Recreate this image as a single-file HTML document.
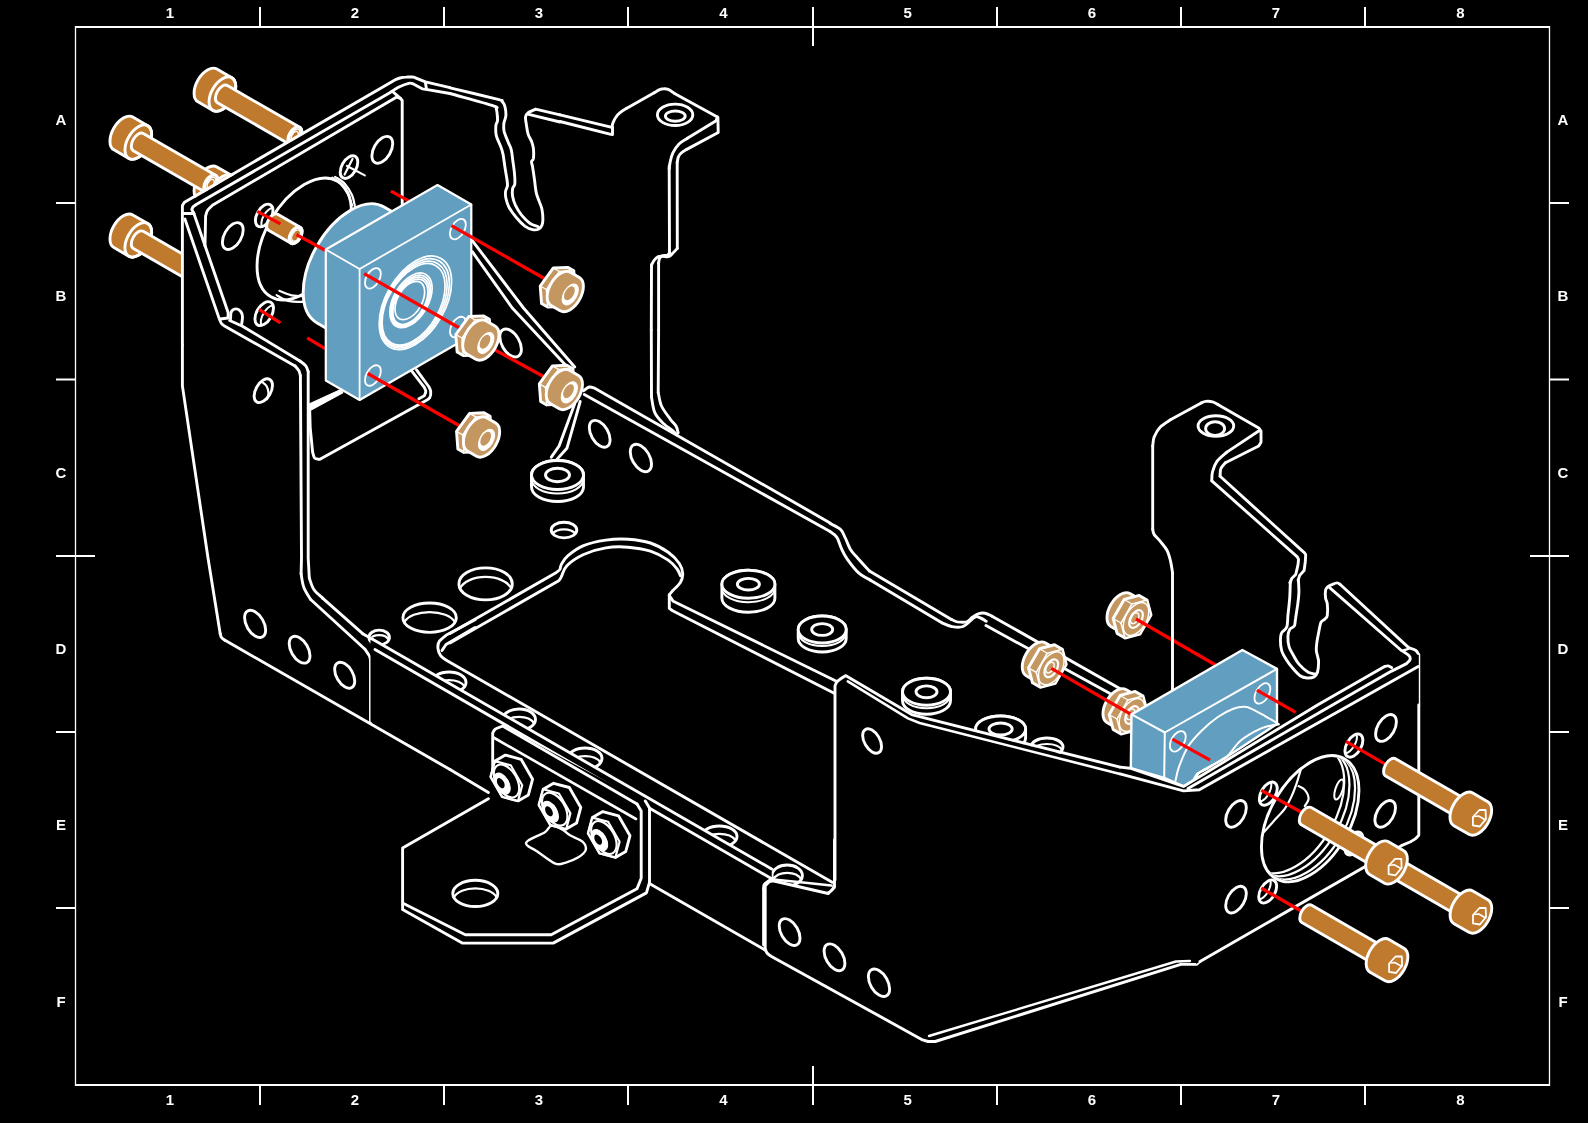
<!DOCTYPE html>
<html><head><meta charset="utf-8"><style>
html,body{margin:0;padding:0;background:#000;width:1588px;height:1123px;overflow:hidden}
svg{display:block}
</style></head><body>
<svg width="1588" height="1123" viewBox="0 0 1588 1123" stroke-linejoin="round" stroke-linecap="round">
<rect width="1588" height="1123" fill="#000"/>
<path d="M75 27H1550M75 1085H1550" stroke="#fff" stroke-width="2" fill="none" stroke-linecap="butt"/>
<path d="M75.5 26V1086M1549.5 26V1086" stroke="#fff" stroke-width="1.3" fill="none" stroke-linecap="butt"/>
<path d="M260 7V27M260 1085V1105M444 7V27M444 1085V1105M628 7V27M628 1085V1105M997 7V27M997 1085V1105M1181 7V27M1181 1085V1105M1365 7V27M1365 1085V1105M813 7V46M813 1066V1105M56 203H75.5M1549.5 203H1569M56 379.5H75.5M1549.5 379.5H1569M56 732H75.5M1549.5 732H1569M56 908H75.5M1549.5 908H1569M56 556H95M1530 556H1569" stroke="#fff" stroke-width="2" fill="none" stroke-linecap="butt"/>
<g fill="#fff" font-family="Liberation Sans, sans-serif" font-weight="bold" font-size="15" text-anchor="middle" style="filter:grayscale(1)"><text x="170.0" y="18.3">1</text><text x="170.0" y="1105.3">1</text><text x="354.8" y="18.3">2</text><text x="354.8" y="1105.3">2</text><text x="539" y="18.3">3</text><text x="539" y="1105.3">3</text><text x="723.5" y="18.3">4</text><text x="723.5" y="1105.3">4</text><text x="907.6" y="18.3">5</text><text x="907.6" y="1105.3">5</text><text x="1091.8" y="18.3">6</text><text x="1091.8" y="1105.3">6</text><text x="1276" y="18.3">7</text><text x="1276" y="1105.3">7</text><text x="1460.3" y="18.3">8</text><text x="1460.3" y="1105.3">8</text><text x="61" y="125.0">A</text><text x="1563" y="125.0">A</text><text x="61" y="301.3">B</text><text x="1563" y="301.3">B</text><text x="61" y="477.6">C</text><text x="1563" y="477.6">C</text><text x="61" y="654.0">D</text><text x="1563" y="654.0">D</text><text x="61" y="830.3000000000001">E</text><text x="1563" y="830.3000000000001">E</text><text x="61" y="1006.6">F</text><text x="1563" y="1006.6">F</text></g>
<g transform="translate(222.4 191.9) rotate(30)"><path d="M-17.3 -18.9L0.0 -18.9A10.9 18.9 0 0 1 0.0 18.9L-17.3 18.9A10.9 18.9 0 0 1 -17.3 -18.9Z" fill="#C07A2E" stroke="#fff" stroke-width="2.9"/><ellipse cx="0.0" cy="0" rx="10.9" ry="18.9" fill="none" stroke="#fff" stroke-width="2.9"/><path d="M0.0 -9.9L83.6 -9.9A5.7 9.9 0 0 1 83.6 9.9L0.0 9.9A5.7 9.9 0 0 1 0.0 -9.9Z" fill="#C07A2E" stroke="#fff" stroke-width="2.9"/><ellipse cx="83.6" cy="0" rx="5.7" ry="9.9" fill="none" stroke="#fff" stroke-width="2.9"/><ellipse cx="83.6" cy="0" rx="4.3" ry="7.5" fill="none" stroke="#fff" stroke-width="1.6"/><ellipse cx="83.6" cy="0" rx="2.9" ry="5.0" fill="none" stroke="#fff" stroke-width="1.6"/></g>
<g transform="translate(138.3 142.1) rotate(30)"><path d="M-17.3 -18.9L0.0 -18.9A10.9 18.9 0 0 1 0.0 18.9L-17.3 18.9A10.9 18.9 0 0 1 -17.3 -18.9Z" fill="#C07A2E" stroke="#fff" stroke-width="2.9"/><ellipse cx="0.0" cy="0" rx="10.9" ry="18.9" fill="none" stroke="#fff" stroke-width="2.9"/><path d="M0.0 -9.9L83.6 -9.9A5.7 9.9 0 0 1 83.6 9.9L0.0 9.9A5.7 9.9 0 0 1 0.0 -9.9Z" fill="#C07A2E" stroke="#fff" stroke-width="2.9"/><ellipse cx="83.6" cy="0" rx="5.7" ry="9.9" fill="none" stroke="#fff" stroke-width="2.9"/><ellipse cx="83.6" cy="0" rx="4.3" ry="7.5" fill="none" stroke="#fff" stroke-width="1.6"/><ellipse cx="83.6" cy="0" rx="2.9" ry="5.0" fill="none" stroke="#fff" stroke-width="1.6"/></g>
<g transform="translate(222.4 94.1) rotate(30)"><path d="M-17.3 -18.9L0.0 -18.9A10.9 18.9 0 0 1 0.0 18.9L-17.3 18.9A10.9 18.9 0 0 1 -17.3 -18.9Z" fill="#C07A2E" stroke="#fff" stroke-width="2.9"/><ellipse cx="0.0" cy="0" rx="10.9" ry="18.9" fill="none" stroke="#fff" stroke-width="2.9"/><path d="M0.0 -9.9L83.6 -9.9A5.7 9.9 0 0 1 83.6 9.9L0.0 9.9A5.7 9.9 0 0 1 0.0 -9.9Z" fill="#C07A2E" stroke="#fff" stroke-width="2.9"/><ellipse cx="83.6" cy="0" rx="5.7" ry="9.9" fill="none" stroke="#fff" stroke-width="2.9"/><ellipse cx="83.6" cy="0" rx="4.3" ry="7.5" fill="none" stroke="#fff" stroke-width="1.6"/><ellipse cx="83.6" cy="0" rx="2.9" ry="5.0" fill="none" stroke="#fff" stroke-width="1.6"/></g>
<g transform="translate(138.3 239.9) rotate(30)"><path d="M-17.3 -18.9L0.0 -18.9A10.9 18.9 0 0 1 0.0 18.9L-17.3 18.9A10.9 18.9 0 0 1 -17.3 -18.9Z" fill="#C07A2E" stroke="#fff" stroke-width="2.9"/><ellipse cx="0.0" cy="0" rx="10.9" ry="18.9" fill="none" stroke="#fff" stroke-width="2.9"/><path d="M0.0 -9.9L83.6 -9.9A5.7 9.9 0 0 1 83.6 9.9L0.0 9.9A5.7 9.9 0 0 1 0.0 -9.9Z" fill="#C07A2E" stroke="#fff" stroke-width="2.9"/><ellipse cx="83.6" cy="0" rx="5.7" ry="9.9" fill="none" stroke="#fff" stroke-width="2.9"/><ellipse cx="83.6" cy="0" rx="4.3" ry="7.5" fill="none" stroke="#fff" stroke-width="1.6"/><ellipse cx="83.6" cy="0" rx="2.9" ry="5.0" fill="none" stroke="#fff" stroke-width="1.6"/></g>
<g><path d="M450.0 93.5 C457.1 95.6 485.0 103.0 492.7 105.6 C500.5 108.3 495.5 107.3 496.3 109.2 C497.1 111.1 497.3 115.0 497.4 117.0 C497.6 119.1 497.7 119.9 497.4 121.3 C497.2 122.7 496.1 122.9 495.9 125.3 C495.7 127.7 495.5 132.1 496.3 135.6 C497.1 139.1 499.5 143.2 500.6 146.3 C501.7 149.3 502.3 150.7 503.0 154.1 C503.7 157.5 504.2 162.6 504.9 166.9 C505.5 171.2 506.6 176.5 507.0 179.7 C507.4 182.9 507.7 184.3 507.4 186.2 C507.2 188.1 505.8 189.1 505.6 191.1 C505.3 193.2 505.3 195.5 505.9 198.3 C506.5 201.0 507.4 204.3 509.1 207.5 C510.9 210.7 513.6 214.4 516.3 217.5 C518.9 220.6 522.1 224.0 524.8 226.1 C527.5 228.1 530.4 229.1 532.6 229.6 C534.9 230.1 536.8 229.9 538.3 229.2 C539.9 228.5 541.1 227.1 541.9 225.3 C542.7 223.6 542.9 221.7 542.9 218.9 C542.9 216.2 542.5 211.9 541.9 209.0 C541.3 206.0 540.0 203.8 539.1 201.1 C538.1 198.4 537.0 196.1 536.2 192.6 C535.4 189.0 535.1 184.0 534.5 179.7 C533.9 175.5 533.1 169.9 532.6 166.9 C532.1 164.0 531.4 163.4 531.5 161.9 C531.6 160.5 533.0 160.6 533.4 158.4 C533.7 156.1 533.7 151.2 533.4 148.4 C533.0 145.5 532.4 143.6 531.5 141.3 C530.6 138.9 528.9 136.8 528.1 134.1 C527.3 131.5 526.9 128.4 526.5 125.6 C526.1 122.7 525.3 119.1 525.5 117.0 C525.7 115.0 526.0 114.4 527.7 113.1 C529.3 111.8 534.2 109.9 535.5 109.2" fill="none" stroke="#fff" stroke-width="2.9" /><path d="M535.5 109.2 L560.0 114.9" fill="none" stroke="#fff" stroke-width="2.9" /><path d="M450.0 87.8 C457.8 89.7 488.4 97.0 497.0 99.2 C505.7 101.5 500.7 100.2 502.0 101.4 C503.3 102.6 504.2 104.0 504.9 106.4 C505.5 108.7 506.0 112.8 505.9 115.6 C505.7 118.5 504.1 120.8 503.9 123.5 C503.6 126.1 503.4 128.1 504.1 131.3 C504.9 134.5 507.2 139.6 508.4 142.7 C509.6 145.8 510.6 147.0 511.3 149.8 C512.0 152.7 512.2 156.0 512.7 159.8 C513.2 163.6 514.0 168.6 514.4 172.6 C514.8 176.7 515.1 181.4 514.8 184.0 C514.5 186.6 513.1 186.2 512.7 188.3 C512.3 190.4 512.2 194.0 512.7 196.8 C513.2 199.7 514.1 202.4 515.5 205.4 C517.0 208.4 518.9 211.7 521.2 214.7 C523.6 217.6 526.9 221.2 529.8 223.2 C532.6 225.2 536.9 226.2 538.3 226.8" fill="none" stroke="#fff" stroke-width="2.9" /><path d="M527.7 114.2 L560.0 122.0" fill="none" stroke="#fff" stroke-width="2.9" /><path d="M560.0 114.8 L611.9 127.3" fill="none" stroke="#fff" stroke-width="2.9" /><path d="M560.0 121.5 L610.9 134.4 L612.5 134.6 L612.5 127.3" fill="none" stroke="#fff" stroke-width="2.9" /><path d="M611.9 127.3 C612.1 126.6 612.4 124.5 613.0 122.8 C613.6 121.2 614.5 119.2 615.7 117.5 C616.8 115.8 618.2 114.2 620.0 112.7 C621.7 111.1 625.3 109.1 626.4 108.4" fill="none" stroke="#fff" stroke-width="2.9" /><path d="M626.4 108.4 L654.2 92.8" fill="none" stroke="#fff" stroke-width="2.9" /><path d="M654.2 92.8 C655.1 92.3 658.0 90.3 659.6 89.6 C661.2 89.0 662.4 88.8 663.8 88.8 C665.3 88.7 666.3 88.7 668.1 89.4 C669.9 90.2 673.5 92.7 674.5 93.4" fill="none" stroke="#fff" stroke-width="2.9" /><path d="M674.5 93.4 L717.4 116.9 L717.9 117.5 L718.2 132.5 L686.3 149.6" fill="none" stroke="#fff" stroke-width="2.9" /><path d="M686.3 149.6 C685.4 150.2 682.3 152.1 681.0 153.3 C679.6 154.6 678.9 155.6 678.3 157.1 C677.7 158.6 677.4 161.5 677.2 162.4" fill="none" stroke="#fff" stroke-width="2.9" /><path d="M717.4 116.9 L716.1 120.7 L687.4 138.3" fill="none" stroke="#fff" stroke-width="2.9" /><path d="M687.4 138.3 C686.0 139.3 681.2 141.8 678.8 144.2 C676.4 146.6 674.4 149.9 672.9 152.8 C671.5 155.7 670.9 158.7 670.3 161.4 C669.6 164.0 669.4 167.6 669.2 168.9" fill="none" stroke="#fff" stroke-width="2.9" /><path d="M669.2 166.0 L669.5 253.0" fill="none" stroke="#fff" stroke-width="2.9" /><path d="M669.5 253.0 C669.1 253.4 668.2 254.8 667.0 255.3 C665.8 255.8 663.2 255.3 662.0 255.8 C660.8 256.3 660.1 257.3 659.5 258.5 C658.9 259.7 658.8 262.2 658.6 263.0" fill="none" stroke="#fff" stroke-width="2.9" /><path d="M658.6 263.0 L658.6 330.0" fill="none" stroke="#fff" stroke-width="2.9" /><path d="M677.2 162.0 L677.3 248.4" fill="none" stroke="#fff" stroke-width="2.9" /><path d="M677.3 248.4 C676.6 249.2 674.4 251.7 673.0 253.0 C671.6 254.3 670.7 255.9 669.0 256.5 C667.3 257.1 664.8 256.3 663.0 256.3 C661.2 256.3 659.7 256.1 658.2 256.7 C656.8 257.3 655.4 258.8 654.3 260.2 C653.2 261.6 652.0 264.2 651.5 265.0" fill="none" stroke="#fff" stroke-width="2.9" /><path d="M651.5 265.0 L651.3 330.0" fill="none" stroke="#fff" stroke-width="2.9" /><ellipse cx="675.1" cy="114.8" rx="17.7" ry="10.7" transform="rotate(0 675.1 114.8)" fill="none" stroke="#fff" stroke-width="2.9"/><ellipse cx="675.3" cy="116.1" rx="9.9" ry="5.1" transform="rotate(0 675.3 116.1)" fill="none" stroke="#fff" stroke-width="2.9"/></g>
<g><path d="M182.4 420V205.5L394.9 79.9L402 80V420Z" fill="#000"/><path d="M182.4 345.0 L182.4 205.5 C182.8 204.9 184.2 202.8 184.5 202.2 L394.9 79.9 C395.8 79.6 398.1 78.5 400.0 78.0 C401.9 77.5 403.7 77.2 406.0 77.1 C408.3 76.9 412.3 77.1 413.6 77.1 L425.4 81.9 L450.0 87.7" fill="none" stroke="#fff" stroke-width="2.9" /><path d="M183.0 213.5 L192.8 213.5" fill="none" stroke="#fff" stroke-width="2.9" /><path d="M193.9 213.5 L191.8 209.5 C192.0 209.1 192.5 207.6 193.2 206.8 C193.9 206.0 195.7 204.9 196.2 204.5 L389.4 93.0 C391.0 92.0 395.8 88.6 399.0 87.0 C402.2 85.4 406.5 83.8 408.8 83.3 C411.1 82.8 412.3 83.6 413.0 83.7 L422.6 88.9 L427.5 89.6 L450.0 93.5" fill="none" stroke="#fff" stroke-width="2.9" /><path d="M425.4 82.5 L426.5 89.0" fill="none" stroke="#fff" stroke-width="2.9" /><path d="M205.0 246.0 L205.6 216.0 C205.9 215.1 206.4 212.3 207.5 210.5 C208.6 208.7 211.6 206.2 212.4 205.3 L396.3 97.2 L400.5 98.3 L402.2 100.5 L402.2 207.0" fill="none" stroke="#fff" stroke-width="2.9" /><path d="M393.5 92.3 L400.5 98.3" fill="none" stroke="#fff" stroke-width="2.9" /><path d="M184.9 219.0 L219.3 318.9 C219.7 319.7 220.6 322.3 221.5 323.5 C222.4 324.7 224.0 325.6 224.5 326.0 L295.0 365.9" fill="none" stroke="#fff" stroke-width="2.9" /><path d="M193.9 213.5 L228.1 312.5 L228.1 318.0 L220.0 319.0" fill="none" stroke="#fff" stroke-width="2.9" /><path d="M229.7 320.5 L242.5 326.2 L299.9 361.0" fill="none" stroke="#fff" stroke-width="2.9" /><path d="M230.6 319.0 C230.7 317.8 230.4 313.4 231.3 311.7 C232.2 310.0 234.5 308.9 236.1 308.9 C237.7 308.9 239.8 310.4 240.9 311.7 C242.0 313.0 242.4 314.4 242.5 316.5 C242.6 318.6 241.8 322.8 241.7 324.0" fill="none" stroke="#fff" stroke-width="2.9" /></g>
<g><ellipse cx="232.8" cy="236.1" rx="8.5" ry="14.7" transform="rotate(30 232.8 236.1)" fill="none" stroke="#fff" stroke-width="2.9" /><ellipse cx="382.3" cy="149.8" rx="8.5" ry="14.7" transform="rotate(30 382.3 149.8)" fill="none" stroke="#fff" stroke-width="2.9" /><ellipse cx="349.0" cy="167.1" rx="7.2" ry="12.4" transform="rotate(30 349.0 167.1)" fill="none" stroke="#fff" stroke-width="2.9" /><path d="M344.6 174.5 L352.5 159.0" fill="none" stroke="#fff" stroke-width="2.2" /><path d="M347.0 166.0 L364.8 175.4" fill="none" stroke="#fff" stroke-width="2.2" /><g transform="translate(264.2 215.5) rotate(30)"><ellipse cx="0" cy="0" rx="7.2" ry="12.4" fill="none" stroke="#fff" stroke-width="2.9"/><path d="M3.5 -10.9A7.2 12.4 0 0 0 3.5 10.9" fill="none" stroke="#fff" stroke-width="2"/></g><g transform="translate(264.2 313.6) rotate(30)"><ellipse cx="0" cy="0" rx="7.6" ry="13.1" fill="none" stroke="#fff" stroke-width="2.9"/><path d="M3.5 -11.7A7.6 13.1 0 0 0 3.5 11.7" fill="none" stroke="#fff" stroke-width="2"/></g><ellipse cx="304.2" cy="239.0" rx="38.5" ry="66.7" transform="rotate(30 304.2 239.0)" fill="none" stroke="#fff" stroke-width="2.9" /></g>
<g><path d="M332.2 177.7 C333.6 178.7 338.1 181.2 340.7 183.9 C343.3 186.6 345.9 190.3 347.8 193.9 C349.7 197.5 351.4 203.4 352.1 205.3" fill="none" stroke="#fff" stroke-width="2.2" /><path d="M335.0 176.8 C336.7 178.0 342.1 180.8 345.0 183.9 C347.9 187.0 350.4 191.5 352.1 195.3 C353.8 199.1 354.5 204.8 355.0 206.7" fill="none" stroke="#fff" stroke-width="2.2" /><path d="M276.6 295.1 C278.5 296.1 283.2 299.8 288.0 300.8 C292.8 301.8 300.4 302.0 305.1 301.3 C309.8 300.6 314.5 297.3 316.4 296.5" fill="none" stroke="#fff" stroke-width="2.2" /><path d="M279.4 290.8 C281.8 291.6 288.5 295.0 293.7 295.7 C298.9 296.4 306.5 295.7 310.8 295.1 C315.1 294.5 317.9 292.7 319.3 292.2" fill="none" stroke="#fff" stroke-width="2.2" /></g>
<g><path d="M182.4 345.0 L182.4 385.9 L208.0 558.0 L220.2 633.7" fill="none" stroke="#fff" stroke-width="2.9" /><path d="M220.2 633.7 C220.4 634.3 220.7 636.4 221.5 637.5 C222.3 638.6 224.4 639.8 225.0 640.3" fill="none" stroke="#fff" stroke-width="2.9" /><path d="M225.0 640.3 L450.0 769.5" fill="none" stroke="#fff" stroke-width="2.9" /><path d="M295.0 365.9 C295.6 366.7 298.0 369.2 298.9 370.8 C299.8 372.4 300.1 374.9 300.4 375.7" fill="none" stroke="#fff" stroke-width="2.9" /><path d="M300.4 375.7 L301.5 558.0 L301.1 573.6" fill="none" stroke="#fff" stroke-width="2.9" /><path d="M301.1 573.6 C301.5 575.8 302.1 582.6 303.7 586.9 C305.2 591.2 309.3 597.2 310.4 599.2" fill="none" stroke="#fff" stroke-width="2.9" /><path d="M310.4 599.2 L365.0 649.3" fill="none" stroke="#fff" stroke-width="2.9" /><path d="M365.0 649.3 C365.7 650.4 368.5 654.1 369.4 656.0 C370.3 657.9 370.3 659.7 370.5 660.4" fill="none" stroke="#fff" stroke-width="2.9" /><path d="M370.5 660.4 L370.5 721.6 L375.0 718.0" fill="none" stroke="#fff" stroke-width="2.9" /><path d="M299.9 361.0 C300.9 361.8 304.4 364.1 305.8 365.9 C307.2 367.7 307.8 370.8 308.2 371.8" fill="none" stroke="#fff" stroke-width="2.9" /><path d="M308.2 371.8 L308.2 558.0 L309.3 578.0" fill="none" stroke="#fff" stroke-width="2.9" /><path d="M309.3 578.0 C310.0 579.9 311.5 585.9 313.7 589.2 C315.9 592.6 321.1 596.6 322.6 598.1" fill="none" stroke="#fff" stroke-width="2.9" /><path d="M322.6 598.1 L362.7 633.7" fill="none" stroke="#fff" stroke-width="2.9" /><ellipse cx="263.3" cy="390.7" rx="7.5" ry="13.0" transform="rotate(30 263.3 390.7)" fill="none" stroke="#fff" stroke-width="2.9" /><path d="M262.0 382.0 C262.8 382.7 265.4 384.2 266.5 386.0 C267.6 387.8 268.4 390.8 268.5 393.0 C268.6 395.2 267.2 398.0 267.0 399.0" fill="none" stroke="#fff" stroke-width="2.2" /><polygon points="309.7,403.8 340.8,389.5 342.8,392.8 309.7,410.8" fill="#fff" stroke="#fff" stroke-width="1.2"/><path d="M309.7 410.9 L310.2 427.6 L312.6 452.1 C313.0 453.1 313.5 456.7 314.6 458.0 C315.7 459.2 318.7 459.2 319.5 459.4 L424.3 401.6 C425.2 401.0 428.7 399.4 429.7 397.7 C430.8 396.0 430.9 393.2 430.7 391.4 C430.5 389.5 429.1 387.3 428.7 386.5 L416.5 369.8" fill="none" stroke="#fff" stroke-width="2.9" /><path d="M411.6 370.8 L424.3 387.4 C424.6 388.1 425.8 390.0 425.8 391.4 C425.8 392.7 424.6 395.0 424.3 395.8 L418.9 398.7" fill="none" stroke="#fff" stroke-width="2.9" /><ellipse cx="255.1" cy="623.9" rx="8.6" ry="14.9" transform="rotate(-30 255.1 623.9)" fill="none" stroke="#fff" stroke-width="2.9" /><ellipse cx="299.6" cy="649.7" rx="8.5" ry="14.7" transform="rotate(-30 299.6 649.7)" fill="none" stroke="#fff" stroke-width="2.9" /><ellipse cx="344.7" cy="675.2" rx="8.2" ry="14.2" transform="rotate(-30 344.7 675.2)" fill="none" stroke="#fff" stroke-width="2.9" /></g>
<g><path d="M472.3 240.6 L523.5 308.0 L574.7 367.0" fill="none" stroke="#fff" stroke-width="2.9" /><path d="M472.3 251.7 L512.3 308.0 L572.5 372.6" fill="none" stroke="#fff" stroke-width="2.9" /><path d="M574.7 403.7 L559.1 446.0 L551.3 457.2" fill="none" stroke="#fff" stroke-width="2.9" /><path d="M580.2 401.5 L566.9 448.3 L556.9 459.4" fill="none" stroke="#fff" stroke-width="2.9" /><path d="M583.6 390.8 C584.5 390.2 587.3 387.5 589.2 387.0 C591.0 386.6 593.8 388.0 594.7 388.2 L830.1 522.9" fill="none" stroke="#fff" stroke-width="2.9" /><path d="M584.3 394.4 L830.1 531.5" fill="none" stroke="#fff" stroke-width="2.9" /><path d="M651.3 330.0 L651.5 397.0" fill="none" stroke="#fff" stroke-width="2.9" /><path d="M651.5 397.0 C652.0 399.6 652.8 408.1 654.8 412.6 C656.8 417.1 660.7 420.8 663.7 423.8 C666.7 426.8 670.4 428.6 672.6 430.5 C674.8 432.4 676.4 434.2 677.1 434.9" fill="none" stroke="#fff" stroke-width="2.9" /><path d="M658.6 330.0 L658.2 392.6" fill="none" stroke="#fff" stroke-width="2.9" /><path d="M658.2 392.6 C658.8 394.8 659.5 401.6 661.5 406.0 C663.5 410.4 668.0 416.0 670.4 419.3 C672.8 422.6 674.7 423.8 676.0 426.0 C677.3 428.2 677.8 431.6 678.2 432.7" fill="none" stroke="#fff" stroke-width="2.9" /><ellipse cx="599.7" cy="433.8" rx="8.5" ry="14.7" transform="rotate(-30 599.7 433.8)" fill="none" stroke="#fff" stroke-width="2.9" /><ellipse cx="510.6" cy="343.0" rx="8.8" ry="15.3" transform="rotate(-30 510.6 343.0)" fill="none" stroke="#fff" stroke-width="2.9" /><ellipse cx="640.9" cy="458.0" rx="8.7" ry="15.0" transform="rotate(-30 640.9 458.0)" fill="none" stroke="#fff" stroke-width="2.9" /></g>
<g><ellipse cx="564.0" cy="530.1" rx="12.8" ry="7.8" fill="none" stroke="#fff" stroke-width="2.9"/><path d="M552.6 533.6A12.8 7.8 0 0 1 575.4 533.6" fill="none" stroke="#fff" stroke-width="2.2"/><ellipse cx="485.6" cy="583.9" rx="26.7" ry="16.0" fill="none" stroke="#fff" stroke-width="2.9"/><path d="M460.0 588.4A26.7 16.0 0 0 1 511.2 588.4" fill="none" stroke="#fff" stroke-width="2.2"/><path d="M450.0 633.6 L556.4 572.4 C557.0 571.9 558.9 570.8 559.8 569.5 C560.6 568.2 560.0 566.9 561.3 564.6 C562.7 562.3 564.3 558.8 568.0 555.7 C571.7 552.5 577.3 548.2 583.6 545.6 C589.9 543.0 598.4 541.2 605.9 540.1 C613.3 539.0 620.7 538.7 628.1 539.2 C635.5 539.7 643.7 540.8 650.4 543.0 C657.1 545.2 663.4 548.9 668.2 552.3 C673.0 555.7 676.9 559.9 679.3 563.5 C681.7 567.0 682.5 570.3 682.7 573.5 C682.9 576.6 682.1 579.5 680.4 582.4 C678.8 585.3 674.5 588.8 672.6 590.8 C670.8 592.9 669.9 594.0 669.3 594.6 L669.3 608.4 L672.6 610.7 L835.2 693.7" fill="none" stroke="#fff" stroke-width="2.9" /><path d="M450.0 642.9 L558.7 580.8 C559.1 580.2 560.0 579.3 561.3 576.8 C562.7 574.3 563.2 569.4 566.9 565.7 C570.6 562.0 577.1 557.5 583.6 554.5 C590.1 551.6 598.4 549.1 605.9 547.9 C613.3 546.6 620.7 546.6 628.1 547.2 C635.5 547.8 643.7 549.1 650.4 551.2 C657.1 553.4 663.7 557.1 668.2 560.1 C672.6 563.1 675.1 566.4 677.1 569.0 C679.1 571.6 679.9 574.6 680.4 575.7" fill="none" stroke="#fff" stroke-width="2.9" /><path d="M669.3 595.7 L673.3 601.3 L837.4 681.7" fill="none" stroke="#fff" stroke-width="2.9" /><path d="M531.5 475.0A26.0 14.5 0 0 1 583.5 475.0V487.0A26.0 14.5 0 0 1 531.5 487.0Z" fill="#000" stroke="#fff" stroke-width="2.9"/><ellipse cx="557.5" cy="475.0" rx="26.0" ry="14.5" fill="#000" stroke="#fff" stroke-width="2.9"/><path d="M531.5 479.0A26.0 14.5 0 0 0 583.5 479.0" fill="none" stroke="#fff" stroke-width="2"/><ellipse cx="557.5" cy="475.0" rx="12.0" ry="6.7" fill="none" stroke="#fff" stroke-width="2.9"/><path d="M721.9 584.2A26.5 14.0 0 0 1 774.9 584.2V598.2A26.5 14.0 0 0 1 721.9 598.2Z" fill="#000" stroke="#fff" stroke-width="2.9"/><ellipse cx="748.4" cy="584.2" rx="26.5" ry="14.0" fill="#000" stroke="#fff" stroke-width="2.9"/><path d="M721.9 588.2A26.5 14.0 0 0 0 774.9 588.2" fill="none" stroke="#fff" stroke-width="2"/><ellipse cx="748.4" cy="584.2" rx="11.0" ry="5.8" fill="none" stroke="#fff" stroke-width="2.9"/></g>
<g><ellipse cx="449.0" cy="682.5" rx="17.0" ry="10.5" fill="none" stroke="#fff" stroke-width="2.9"/><path d="M433.3 686.5A17.0 10.5 0 0 1 464.7 686.5" fill="none" stroke="#fff" stroke-width="2.2"/><ellipse cx="519.1" cy="719.5" rx="16.4" ry="10.5" fill="none" stroke="#fff" stroke-width="2.9"/><path d="M503.9 723.5A16.4 10.5 0 0 1 534.3 723.5" fill="none" stroke="#fff" stroke-width="2.2"/><ellipse cx="585.0" cy="758.5" rx="17.0" ry="10.5" fill="none" stroke="#fff" stroke-width="2.9"/><path d="M569.3 762.5A17.0 10.5 0 0 1 600.7 762.5" fill="none" stroke="#fff" stroke-width="2.2"/><ellipse cx="719.4" cy="836.5" rx="17.6" ry="10.5" fill="none" stroke="#fff" stroke-width="2.9"/><path d="M703.0 840.5A17.6 10.5 0 0 1 735.7 840.5" fill="none" stroke="#fff" stroke-width="2.2"/><ellipse cx="787.2" cy="875.5" rx="15.2" ry="10.5" fill="none" stroke="#fff" stroke-width="2.9"/><path d="M773.1 879.5A15.2 10.5 0 0 1 801.4 879.5" fill="none" stroke="#fff" stroke-width="2.2"/><ellipse cx="379.2" cy="637.4" rx="10.2" ry="7.3" fill="none" stroke="#fff" stroke-width="2.9"/><path d="M369.6 639.9A10.2 7.3 0 0 1 388.8 639.9" fill="none" stroke="#fff" stroke-width="2.2"/><ellipse cx="429.6" cy="617.7" rx="26.7" ry="14.7" fill="none" stroke="#fff" stroke-width="2.9"/><path d="M404.2 622.2A26.7 14.7 0 0 1 455.0 622.2" fill="none" stroke="#fff" stroke-width="2.2"/><path d="M475.0 619.8 L446.4 635.0 C445.2 636.1 440.6 639.2 439.2 641.5 C437.8 643.8 437.7 646.3 438.0 648.7 C438.3 651.1 439.3 653.9 440.8 655.9 C442.3 657.9 446.1 659.9 447.2 660.7 L832.2 882.3" fill="none" stroke="#fff" stroke-width="2.9" /><path d="M475.0 627.6 L446.0 644.5 C445.3 645.5 442.7 649.5 442.0 650.5" fill="none" stroke="#fff" stroke-width="2.9" /><path d="M370.5 636L378.3 642.5L771.7 869L771.7 878.8L764 884L763.6 945L370.5 721.6Z" fill="#000"/><path d="M362.7 633.7 L378.3 642.5 L771.7 869.0" fill="none" stroke="#fff" stroke-width="2.9" /><path d="M375.0 649.5 L771.7 878.8" fill="none" stroke="#fff" stroke-width="2.9" /><path d="M771.7 878.8 C770.5 879.7 765.9 882.4 764.5 884.1 C763.1 885.8 763.8 888.2 763.6 889.0" fill="none" stroke="#fff" stroke-width="2.9" /><path d="M763.6 889.0 L763.6 945.0" fill="none" stroke="#fff" stroke-width="2.9" /><path d="M771.2 879.2 L805.5 882.8 L831.3 885.5" fill="none" stroke="#fff" stroke-width="2.6" /><path d="M766.3 884.6 L817.1 893.9 L826.0 893.9" fill="none" stroke="#fff" stroke-width="2.6" /><path d="M826.0 893.9 C826.7 893.5 829.2 892.7 830.4 891.7 C831.7 890.7 832.9 889.2 833.5 887.7 C834.2 886.1 834.3 883.2 834.4 882.3" fill="none" stroke="#fff" stroke-width="2.9" /><path d="M450.0 769.5 L488.4 792.4" fill="none" stroke="#fff" stroke-width="2.9" /><path d="M646.3 881.7 L765.0 950.0" fill="none" stroke="#fff" stroke-width="2.9" /></g>
<g><path d="M492.7 733L502.7 726L645 802L649.5 808V882.4L646.4 892.9L553.2 943.1H462.2L402.6 909.6V847.9L492.7 795Z" fill="#000"/><path d="M492.7 778.0 L492.7 733.0 C493.1 732.4 493.5 730.5 495.2 729.3 C496.9 728.1 501.4 726.5 502.7 726.0 L637.0 804.0" fill="none" stroke="#fff" stroke-width="2.9" /><path d="M637.0 804.0 C637.7 805.2 640.5 809.8 641.2 811.0 L641.2 878.2 C640.5 880.0 637.7 887.0 637.0 888.7 L551.2 934.8 L465.3 934.8 L403.5 903.5" fill="none" stroke="#fff" stroke-width="2.9" /><path d="M645.3 801.0 C646.0 802.2 648.8 806.8 649.5 808.0 L649.5 882.4 C649.0 884.1 646.9 891.1 646.4 892.9 L553.2 943.1 L462.2 943.1 L402.6 909.6 L402.6 847.9 L488.4 798.7" fill="none" stroke="#fff" stroke-width="2.9" /><ellipse cx="475.3" cy="893.4" rx="22.5" ry="13.1" fill="none" stroke="#fff" stroke-width="2.9"/><path d="M453.9 897.4A22.5 13.1 0 0 1 496.7 897.4" fill="none" stroke="#fff" stroke-width="2.2"/><path d="M493.5 737.5 L636.0 819.0" fill="none" stroke="#fff" stroke-width="2.6" /><path d="M528.1 840.6 C531.1 838.4 541.0 834.6 544.9 832.2 C548.7 829.8 548.4 826.4 551.2 825.9 C553.9 825.4 558.5 827.5 561.6 829.1 C564.8 830.6 566.5 833.3 570.0 835.3 C573.5 837.4 579.9 839.2 582.5 841.6 C585.2 844.1 586.4 847.4 585.7 850.0 C585.0 852.6 581.7 855.2 578.4 857.3 C575.0 859.4 569.6 861.5 565.8 862.6 C562.0 863.6 560.2 865.5 555.3 863.6 C550.5 861.7 541.2 854.1 536.5 851.0 C531.8 848.0 528.5 846.9 527.1 845.2 C525.7 843.4 525.2 842.7 528.1 840.6 Z" fill="none" stroke="#fff" stroke-width="2.4" /></g>
<g transform="translate(506.5 781.0) rotate(150)"><polygon points="-23.5,-11.5 -12.0,-23.0 0.0,-23.0 11.5,-11.5 11.5,11.5 0.0,23.0 -12.0,23.0 -23.5,11.5" fill="#000" stroke="#fff" stroke-width="2.9"/><polygon points="0.0,23.0 11.5,11.5 11.5,-11.5 0.0,-23.0 -11.5,-11.5 -11.5,11.5" fill="#000" stroke="#fff" stroke-width="2.2"/><ellipse cx="0" cy="0" rx="10.4" ry="18.0" fill="#000" stroke="#fff" stroke-width="2.2"/><ellipse cx="5" cy="0" rx="6.6" ry="11.5" fill="#fff" stroke="#fff" stroke-width="1"/><ellipse cx="6" cy="1" rx="3.2" ry="5.5" fill="#000"/></g>
<g transform="translate(554.7 809.2) rotate(150)"><polygon points="-23.5,-11.5 -12.0,-23.0 0.0,-23.0 11.5,-11.5 11.5,11.5 0.0,23.0 -12.0,23.0 -23.5,11.5" fill="#000" stroke="#fff" stroke-width="2.9"/><polygon points="0.0,23.0 11.5,11.5 11.5,-11.5 0.0,-23.0 -11.5,-11.5 -11.5,11.5" fill="#000" stroke="#fff" stroke-width="2.2"/><ellipse cx="0" cy="0" rx="10.4" ry="18.0" fill="#000" stroke="#fff" stroke-width="2.2"/><ellipse cx="5" cy="0" rx="6.6" ry="11.5" fill="#fff" stroke="#fff" stroke-width="1"/><ellipse cx="6" cy="1" rx="3.2" ry="5.5" fill="#000"/></g>
<g transform="translate(603.9 837.5) rotate(150)"><polygon points="-23.5,-11.5 -12.0,-23.0 0.0,-23.0 11.5,-11.5 11.5,11.5 0.0,23.0 -12.0,23.0 -23.5,11.5" fill="#000" stroke="#fff" stroke-width="2.9"/><polygon points="0.0,23.0 11.5,11.5 11.5,-11.5 0.0,-23.0 -11.5,-11.5 -11.5,11.5" fill="#000" stroke="#fff" stroke-width="2.2"/><ellipse cx="0" cy="0" rx="10.4" ry="18.0" fill="#000" stroke="#fff" stroke-width="2.2"/><ellipse cx="5" cy="0" rx="6.6" ry="11.5" fill="#fff" stroke="#fff" stroke-width="1"/><ellipse cx="6" cy="1" rx="3.2" ry="5.5" fill="#000"/></g>
<g><g transform="translate(295.6 235.3) rotate(30)"><path d="M-26.0 -9.2L0.0 -9.2A5.3 9.2 0 0 1 0.0 9.2L-26.0 9.2A5.3 9.2 0 0 1 -26.0 -9.2Z" fill="#C07A2E" stroke="#fff" stroke-width="2.9"/><ellipse cx="0.0" cy="0" rx="5.3" ry="9.2" fill="none" stroke="#fff" stroke-width="2.9"/><ellipse cx="0.0" cy="0" rx="4.3" ry="7.4" fill="none" stroke="#fff" stroke-width="1.4"/><ellipse cx="0.5" cy="0" rx="3.5" ry="6.0" fill="none" stroke="#fff" stroke-width="1.2"/></g><line x1="257.3" y1="211.4" x2="280.4" y2="223.9" stroke="#FF0000" stroke-width="3.2" stroke-linecap="butt"/><line x1="259.0" y1="309.4" x2="280.4" y2="322.9" stroke="#FF0000" stroke-width="3.2" stroke-linecap="butt"/><g transform="translate(350.6 265) rotate(30)"><path d="M0.0 -67.0L36.0 -67.0A38.7 67.0 0 0 1 36.0 67.0L0.0 67.0A38.7 67.0 0 0 1 0.0 -67.0Z" fill="#629EC0" stroke="#fff" stroke-width="2.9"/></g><line x1="296.5" y1="234.6" x2="325.5" y2="250.5" stroke="#FF0000" stroke-width="3.2" stroke-linecap="butt"/><line x1="390.9" y1="191.1" x2="410.5" y2="201.8" stroke="#FF0000" stroke-width="3.2" stroke-linecap="butt"/><line x1="307.2" y1="337.9" x2="325.0" y2="348.6" stroke="#FF0000" stroke-width="3.2" stroke-linecap="butt"/><polygon points="325.8,249.5 437.5,185.0 471.3,204.5 471.3,335.5 359.6,400.0 325.8,380.5" fill="#629EC0" stroke="#fff" stroke-width="2.2"/><polyline points="325.8,249.5 359.6,269.0 471.3,204.5" fill="none" stroke="#fff" stroke-width="1.8"/><polyline points="359.6,269.0 359.6,400.0" fill="none" stroke="#fff" stroke-width="1.8"/><ellipse cx="372.9" cy="278.3" rx="6.5" ry="11.2" transform="rotate(30 372.9 278.3)" fill="none" stroke="#fff" stroke-width="1.8" /><ellipse cx="457.9" cy="229.1" rx="6.5" ry="11.2" transform="rotate(30 457.9 229.1)" fill="none" stroke="#fff" stroke-width="1.8" /><ellipse cx="372.9" cy="375.5" rx="6.5" ry="11.2" transform="rotate(30 372.9 375.5)" fill="none" stroke="#fff" stroke-width="1.8" /><ellipse cx="457.9" cy="327.0" rx="6.5" ry="11.2" transform="rotate(30 457.9 327.0)" fill="none" stroke="#fff" stroke-width="1.8" /><ellipse cx="415.4" cy="302.8" rx="29.5" ry="51.2" transform="rotate(30 415.4 302.8)" fill="none" stroke="#fff" stroke-width="1.7" /><ellipse cx="414.8" cy="303.3" rx="28.2" ry="48.8" transform="rotate(30 414.8 303.3)" fill="none" stroke="#fff" stroke-width="1.7" /><ellipse cx="414.2" cy="303.8" rx="26.9" ry="46.6" transform="rotate(30 414.2 303.8)" fill="none" stroke="#fff" stroke-width="1.7" /><ellipse cx="413.6" cy="304.3" rx="25.7" ry="44.6" transform="rotate(30 413.6 304.3)" fill="none" stroke="#fff" stroke-width="1.7" /><ellipse cx="411.0" cy="300.3" rx="17.3" ry="29.9" transform="rotate(30 411.0 300.3)" fill="none" stroke="#fff" stroke-width="1.7" /><ellipse cx="410.8" cy="300.8" rx="16.2" ry="28.0" transform="rotate(30 410.8 300.8)" fill="none" stroke="#fff" stroke-width="1.7" /><ellipse cx="410.6" cy="301.3" rx="15.2" ry="26.3" transform="rotate(30 410.6 301.3)" fill="none" stroke="#fff" stroke-width="1.7" /><ellipse cx="410.4" cy="301.8" rx="14.3" ry="24.8" transform="rotate(30 410.4 301.8)" fill="none" stroke="#fff" stroke-width="1.7" /><ellipse cx="409.8" cy="300.5" rx="12.1" ry="21.0" transform="rotate(30 409.8 300.5)" fill="none" stroke="#fff" stroke-width="1.7" /><line x1="451.4" y1="225.7" x2="555.0" y2="284.5" stroke="#FF0000" stroke-width="3.2" stroke-linecap="butt"/><line x1="364.2" y1="273.7" x2="470.0" y2="334.0" stroke="#FF0000" stroke-width="3.2" stroke-linecap="butt"/><line x1="492.4" y1="348.6" x2="550.0" y2="380.0" stroke="#FF0000" stroke-width="3.2" stroke-linecap="butt"/><line x1="367.7" y1="373.5" x2="466.0" y2="429.5" stroke="#FF0000" stroke-width="3.2" stroke-linecap="butt"/></g>
<g transform="translate(569.8 294.2) rotate(30)"><polygon points="-29.7,7.7 -27.4,-14.5 -15.2,-22.2 -8.2,-22.2 1.7,-7.7 -0.6,14.5 -12.8,22.2 -19.8,22.2" fill="#C49660" stroke="#fff" stroke-width="2.9" stroke-linejoin="round"/><line x1="-7.6" y1="14.5" x2="-0.6" y2="14.5" stroke="#fff" stroke-width="1.3"/><line x1="-5.3" y1="-7.7" x2="1.7" y2="-7.7" stroke="#fff" stroke-width="1.3"/><line x1="-15.2" y1="-22.2" x2="-8.2" y2="-22.2" stroke="#fff" stroke-width="1.3"/><line x1="-27.4" y1="-14.5" x2="-20.4" y2="-14.5" stroke="#fff" stroke-width="1.3"/><line x1="-29.7" y1="7.7" x2="-22.7" y2="7.7" stroke="#fff" stroke-width="1.3"/><line x1="-19.8" y1="22.2" x2="-12.8" y2="22.2" stroke="#fff" stroke-width="1.3"/><polygon points="-0.6,14.5 1.7,-7.7 -8.2,-22.2 -20.4,-14.5 -22.7,7.7 -12.8,22.2" fill="#C49660" stroke="#fff" stroke-width="1.3"/><path d="M-10.5 -19.2L0.0 -19.2A11.1 19.2 0 0 1 0.0 19.2L-10.5 19.2A11.1 19.2 0 0 1 -10.5 -19.2Z" fill="#C49660" stroke="#fff" stroke-width="2.9"/><ellipse cx="0.5" cy="0" rx="6.6" ry="11.5" fill="#fff" stroke="#fff" stroke-width="1"/><ellipse cx="-0.8" cy="-0.6" rx="4.4" ry="7.6" fill="#C49660"/></g>
<g transform="translate(485.4 342.7) rotate(30)"><polygon points="-29.7,7.7 -27.4,-14.5 -15.2,-22.2 -8.2,-22.2 1.7,-7.7 -0.6,14.5 -12.8,22.2 -19.8,22.2" fill="#C49660" stroke="#fff" stroke-width="2.9" stroke-linejoin="round"/><line x1="-7.6" y1="14.5" x2="-0.6" y2="14.5" stroke="#fff" stroke-width="1.3"/><line x1="-5.3" y1="-7.7" x2="1.7" y2="-7.7" stroke="#fff" stroke-width="1.3"/><line x1="-15.2" y1="-22.2" x2="-8.2" y2="-22.2" stroke="#fff" stroke-width="1.3"/><line x1="-27.4" y1="-14.5" x2="-20.4" y2="-14.5" stroke="#fff" stroke-width="1.3"/><line x1="-29.7" y1="7.7" x2="-22.7" y2="7.7" stroke="#fff" stroke-width="1.3"/><line x1="-19.8" y1="22.2" x2="-12.8" y2="22.2" stroke="#fff" stroke-width="1.3"/><polygon points="-0.6,14.5 1.7,-7.7 -8.2,-22.2 -20.4,-14.5 -22.7,7.7 -12.8,22.2" fill="#C49660" stroke="#fff" stroke-width="1.3"/><path d="M-10.5 -19.2L0.0 -19.2A11.1 19.2 0 0 1 0.0 19.2L-10.5 19.2A11.1 19.2 0 0 1 -10.5 -19.2Z" fill="#C49660" stroke="#fff" stroke-width="2.9"/><ellipse cx="0.5" cy="0" rx="6.6" ry="11.5" fill="#fff" stroke="#fff" stroke-width="1"/><ellipse cx="-0.8" cy="-0.6" rx="4.4" ry="7.6" fill="#C49660"/></g>
<g transform="translate(568.9 392.1) rotate(30)"><polygon points="-29.7,7.7 -27.4,-14.5 -15.2,-22.2 -8.2,-22.2 1.7,-7.7 -0.6,14.5 -12.8,22.2 -19.8,22.2" fill="#C49660" stroke="#fff" stroke-width="2.9" stroke-linejoin="round"/><line x1="-7.6" y1="14.5" x2="-0.6" y2="14.5" stroke="#fff" stroke-width="1.3"/><line x1="-5.3" y1="-7.7" x2="1.7" y2="-7.7" stroke="#fff" stroke-width="1.3"/><line x1="-15.2" y1="-22.2" x2="-8.2" y2="-22.2" stroke="#fff" stroke-width="1.3"/><line x1="-27.4" y1="-14.5" x2="-20.4" y2="-14.5" stroke="#fff" stroke-width="1.3"/><line x1="-29.7" y1="7.7" x2="-22.7" y2="7.7" stroke="#fff" stroke-width="1.3"/><line x1="-19.8" y1="22.2" x2="-12.8" y2="22.2" stroke="#fff" stroke-width="1.3"/><polygon points="-0.6,14.5 1.7,-7.7 -8.2,-22.2 -20.4,-14.5 -22.7,7.7 -12.8,22.2" fill="#C49660" stroke="#fff" stroke-width="1.3"/><path d="M-10.5 -19.2L0.0 -19.2A11.1 19.2 0 0 1 0.0 19.2L-10.5 19.2A11.1 19.2 0 0 1 -10.5 -19.2Z" fill="#C49660" stroke="#fff" stroke-width="2.9"/><ellipse cx="0.5" cy="0" rx="6.6" ry="11.5" fill="#fff" stroke="#fff" stroke-width="1"/><ellipse cx="-0.8" cy="-0.6" rx="4.4" ry="7.6" fill="#C49660"/></g>
<g transform="translate(486.1 439.6) rotate(30)"><polygon points="-29.7,7.7 -27.4,-14.5 -15.2,-22.2 -8.2,-22.2 1.7,-7.7 -0.6,14.5 -12.8,22.2 -19.8,22.2" fill="#C49660" stroke="#fff" stroke-width="2.9" stroke-linejoin="round"/><line x1="-7.6" y1="14.5" x2="-0.6" y2="14.5" stroke="#fff" stroke-width="1.3"/><line x1="-5.3" y1="-7.7" x2="1.7" y2="-7.7" stroke="#fff" stroke-width="1.3"/><line x1="-15.2" y1="-22.2" x2="-8.2" y2="-22.2" stroke="#fff" stroke-width="1.3"/><line x1="-27.4" y1="-14.5" x2="-20.4" y2="-14.5" stroke="#fff" stroke-width="1.3"/><line x1="-29.7" y1="7.7" x2="-22.7" y2="7.7" stroke="#fff" stroke-width="1.3"/><line x1="-19.8" y1="22.2" x2="-12.8" y2="22.2" stroke="#fff" stroke-width="1.3"/><polygon points="-0.6,14.5 1.7,-7.7 -8.2,-22.2 -20.4,-14.5 -22.7,7.7 -12.8,22.2" fill="#C49660" stroke="#fff" stroke-width="1.3"/><path d="M-10.5 -19.2L0.0 -19.2A11.1 19.2 0 0 1 0.0 19.2L-10.5 19.2A11.1 19.2 0 0 1 -10.5 -19.2Z" fill="#C49660" stroke="#fff" stroke-width="2.9"/><ellipse cx="0.5" cy="0" rx="6.6" ry="11.5" fill="#fff" stroke="#fff" stroke-width="1"/><ellipse cx="-0.8" cy="-0.6" rx="4.4" ry="7.6" fill="#C49660"/></g>
<g><path d="M830.0 523.5 C831.7 524.4 837.9 526.9 840.4 529.3 C842.9 531.6 843.3 533.9 845.0 537.4 C846.8 540.8 848.7 546.6 850.8 550.1 C853.0 553.6 854.7 554.7 857.8 558.2 C860.9 561.7 867.4 568.8 869.4 570.9" fill="none" stroke="#fff" stroke-width="2.9" /><path d="M869.4 570.9 L951.5 619.5" fill="none" stroke="#fff" stroke-width="2.9" /><path d="M951.5 619.5 C952.5 619.9 954.8 621.5 957.3 621.9 C959.8 622.2 964.1 622.6 966.6 621.9 C969.1 621.1 970.4 618.6 972.4 617.2 C974.3 615.9 976.0 614.4 978.2 613.8 C980.3 613.1 982.8 612.8 985.1 613.2 C987.4 613.6 990.9 615.6 992.1 616.1" fill="none" stroke="#fff" stroke-width="2.9" /><path d="M992.0 616.2 L1140.0 700.0" fill="none" stroke="#fff" stroke-width="2.9" /><path d="M830.0 531.6 C831.2 532.5 835.0 534.5 836.9 537.4 C838.9 540.3 839.8 545.3 841.6 548.9 C843.3 552.6 844.5 555.3 847.4 559.4 C850.3 563.4 855.1 569.8 858.9 573.2 C862.8 576.7 868.6 579.0 870.5 580.2" fill="none" stroke="#fff" stroke-width="2.9" /><path d="M870.5 580.2 L942.3 623.0" fill="none" stroke="#fff" stroke-width="2.9" /><path d="M942.3 623.0 C943.8 623.6 948.1 625.9 951.5 626.5 C955.0 627.1 959.3 628.0 963.1 626.5 C967.0 625.0 972.0 618.7 974.7 617.2 C977.4 615.7 977.4 616.8 979.3 617.5 C981.3 618.1 985.1 620.6 986.3 621.3" fill="none" stroke="#fff" stroke-width="2.9" /><path d="M986.0 625.5 L1140.0 710.0" fill="none" stroke="#fff" stroke-width="2.9" /><path d="M798.2 629.5A24.0 13.5 0 0 1 846.2 629.5V638.5A24.0 13.5 0 0 1 798.2 638.5Z" fill="#000" stroke="#fff" stroke-width="2.9"/><ellipse cx="822.2" cy="629.5" rx="24.0" ry="13.5" fill="#000" stroke="#fff" stroke-width="2.9"/><path d="M798.2 632.5A24.0 13.5 0 0 0 846.2 632.5" fill="none" stroke="#fff" stroke-width="2"/><ellipse cx="822.2" cy="629.5" rx="10.5" ry="5.9" fill="none" stroke="#fff" stroke-width="2.9"/><path d="M902.5 691.8A24.0 13.5 0 0 1 950.5 691.8V700.8A24.0 13.5 0 0 1 902.5 700.8Z" fill="#000" stroke="#fff" stroke-width="2.9"/><ellipse cx="926.5" cy="691.8" rx="24.0" ry="13.5" fill="#000" stroke="#fff" stroke-width="2.9"/><path d="M902.5 694.8A24.0 13.5 0 0 0 950.5 694.8" fill="none" stroke="#fff" stroke-width="2"/><ellipse cx="926.5" cy="691.8" rx="10.5" ry="5.9" fill="none" stroke="#fff" stroke-width="2.9"/><path d="M975.6 729.0A25.0 13.0 0 0 1 1025.6 729.0V738.0A25.0 13.0 0 0 1 975.6 738.0Z" fill="#000" stroke="#fff" stroke-width="2.9"/><ellipse cx="1000.6" cy="729.0" rx="25.0" ry="13.0" fill="#000" stroke="#fff" stroke-width="2.9"/><ellipse cx="1000.6" cy="729.0" rx="11.6" ry="6.0" fill="none" stroke="#fff" stroke-width="2.9"/><ellipse cx="1047.0" cy="747.0" rx="16.0" ry="9.0" fill="none" stroke="#fff" stroke-width="2.9"/><path d="M1031.9 750.0A16.0 9.0 0 0 1 1062.1 750.0" fill="none" stroke="#fff" stroke-width="2.2"/></g>
<g><path d="M835 684.8L845.5 675.6L912.6 714.9L1183.5 786.4L1200 961.5L1180.8 964.4L935.2 1041.5L922.6 1039.9L771.5 956.5L765.2 948.6V885.7L769.9 880.9L828.2 893.5L835 887Z" fill="#000"/><path d="M835.0 880.0 L835.0 686.0 C835.4 685.2 835.6 683.1 837.4 681.4 C839.1 679.7 844.1 676.6 845.5 675.6 L912.6 714.9 L1120.0 767.1" fill="none" stroke="#fff" stroke-width="2.9" /><path d="M847.8 681.4 L908.0 718.4 L919.6 723.0 L1120.0 773.9" fill="none" stroke="#fff" stroke-width="2.6" /><path d="M834.5 840.0 L834.5 887.2 C833.9 887.8 832.0 890.0 831.0 891.0 C830.0 892.0 828.7 893.1 828.2 893.5 L774.0 881.0 C773.3 881.1 771.4 880.7 769.9 881.5 C768.4 882.3 766.0 885.2 765.2 886.0 L765.2 948.6 C765.5 949.3 766.0 951.7 767.0 953.0 C768.0 954.3 770.8 955.9 771.5 956.5 L922.6 1039.9 L928.0 1041.5 L935.2 1041.5 L1180.8 964.4 L1196.5 964.4 L1200.0 961.5" fill="none" stroke="#fff" stroke-width="2.9" /><path d="M929.0 1036.0 L1176.0 961.5 L1190.0 961.0" fill="none" stroke="#fff" stroke-width="2.4" /><ellipse cx="872.1" cy="741.0" rx="7.7" ry="13.4" transform="rotate(-30 872.1 741.0)" fill="none" stroke="#fff" stroke-width="2.9" /><ellipse cx="789.6" cy="932.1" rx="8.5" ry="14.7" transform="rotate(-30 789.6 932.1)" fill="none" stroke="#fff" stroke-width="2.9" /><ellipse cx="834.5" cy="957.3" rx="8.5" ry="14.7" transform="rotate(-30 834.5 957.3)" fill="none" stroke="#fff" stroke-width="2.9" /><ellipse cx="879.0" cy="982.8" rx="8.7" ry="15.0" transform="rotate(-30 879.0 982.8)" fill="none" stroke="#fff" stroke-width="2.9" /></g>
<g transform="translate(1136.0 619.0) rotate(30)"><path d="M-18.0 -19.0L-9.0 -19.0A11.0 19.0 0 0 1 -9.0 19.0L-18.0 19.0A11.0 19.0 0 0 1 -18.0 -19.0Z" fill="#C49660" stroke="#fff" stroke-width="2.9"/><polygon points="-20.0,-11.0 -9.0,-22.0 0.0,-22.0 11.0,-11.0 11.0,11.0 0.0,22.0 -9.0,22.0 -20.0,11.0" fill="#C49660" stroke="#fff" stroke-width="2.9"/><line x1="-9.0" y1="22.0" x2="0.0" y2="22.0" stroke="#fff" stroke-width="1.3"/><line x1="2.0" y1="11.0" x2="11.0" y2="11.0" stroke="#fff" stroke-width="1.3"/><line x1="2.0" y1="-11.0" x2="11.0" y2="-11.0" stroke="#fff" stroke-width="1.3"/><line x1="-9.0" y1="-22.0" x2="0.0" y2="-22.0" stroke="#fff" stroke-width="1.3"/><line x1="-20.0" y1="-11.0" x2="-11.0" y2="-11.0" stroke="#fff" stroke-width="1.3"/><line x1="-20.0" y1="11.0" x2="-11.0" y2="11.0" stroke="#fff" stroke-width="1.3"/><polygon points="0.0,22.0 11.0,11.0 11.0,-11.0 0.0,-22.0 -11.0,-11.0 -11.0,11.0" fill="#C49660" stroke="#fff" stroke-width="1.6"/><ellipse cx="0" cy="0" rx="10.4" ry="18.0" fill="#C49660" stroke="#fff" stroke-width="1.4"/><ellipse cx="0" cy="0" rx="5.6" ry="9.7" fill="#C49660" stroke="#fff" stroke-width="2.2"/><ellipse cx="-1.5" cy="0" rx="3.4" ry="5.8" fill="none" stroke="#fff" stroke-width="1.6"/></g>
<g transform="translate(1051.3 668.3) rotate(30)"><path d="M-18.0 -19.0L-9.0 -19.0A11.0 19.0 0 0 1 -9.0 19.0L-18.0 19.0A11.0 19.0 0 0 1 -18.0 -19.0Z" fill="#C49660" stroke="#fff" stroke-width="2.9"/><polygon points="-20.0,-11.0 -9.0,-22.0 0.0,-22.0 11.0,-11.0 11.0,11.0 0.0,22.0 -9.0,22.0 -20.0,11.0" fill="#C49660" stroke="#fff" stroke-width="2.9"/><line x1="-9.0" y1="22.0" x2="0.0" y2="22.0" stroke="#fff" stroke-width="1.3"/><line x1="2.0" y1="11.0" x2="11.0" y2="11.0" stroke="#fff" stroke-width="1.3"/><line x1="2.0" y1="-11.0" x2="11.0" y2="-11.0" stroke="#fff" stroke-width="1.3"/><line x1="-9.0" y1="-22.0" x2="0.0" y2="-22.0" stroke="#fff" stroke-width="1.3"/><line x1="-20.0" y1="-11.0" x2="-11.0" y2="-11.0" stroke="#fff" stroke-width="1.3"/><line x1="-20.0" y1="11.0" x2="-11.0" y2="11.0" stroke="#fff" stroke-width="1.3"/><polygon points="0.0,22.0 11.0,11.0 11.0,-11.0 0.0,-22.0 -11.0,-11.0 -11.0,11.0" fill="#C49660" stroke="#fff" stroke-width="1.6"/><ellipse cx="0" cy="0" rx="10.4" ry="18.0" fill="#C49660" stroke="#fff" stroke-width="1.4"/><ellipse cx="0" cy="0" rx="5.6" ry="9.7" fill="#C49660" stroke="#fff" stroke-width="2.2"/><ellipse cx="-1.5" cy="0" rx="3.4" ry="5.8" fill="none" stroke="#fff" stroke-width="1.6"/></g>
<g transform="translate(1132.0 715.0) rotate(30)"><path d="M-18.0 -19.0L-9.0 -19.0A11.0 19.0 0 0 1 -9.0 19.0L-18.0 19.0A11.0 19.0 0 0 1 -18.0 -19.0Z" fill="#C49660" stroke="#fff" stroke-width="2.9"/><polygon points="-20.0,-11.0 -9.0,-22.0 0.0,-22.0 11.0,-11.0 11.0,11.0 0.0,22.0 -9.0,22.0 -20.0,11.0" fill="#C49660" stroke="#fff" stroke-width="2.9"/><line x1="-9.0" y1="22.0" x2="0.0" y2="22.0" stroke="#fff" stroke-width="1.3"/><line x1="2.0" y1="11.0" x2="11.0" y2="11.0" stroke="#fff" stroke-width="1.3"/><line x1="2.0" y1="-11.0" x2="11.0" y2="-11.0" stroke="#fff" stroke-width="1.3"/><line x1="-9.0" y1="-22.0" x2="0.0" y2="-22.0" stroke="#fff" stroke-width="1.3"/><line x1="-20.0" y1="-11.0" x2="-11.0" y2="-11.0" stroke="#fff" stroke-width="1.3"/><line x1="-20.0" y1="11.0" x2="-11.0" y2="11.0" stroke="#fff" stroke-width="1.3"/><polygon points="0.0,22.0 11.0,11.0 11.0,-11.0 0.0,-22.0 -11.0,-11.0 -11.0,11.0" fill="#C49660" stroke="#fff" stroke-width="1.6"/><ellipse cx="0" cy="0" rx="10.4" ry="18.0" fill="#C49660" stroke="#fff" stroke-width="1.4"/><ellipse cx="0" cy="0" rx="5.6" ry="9.7" fill="#C49660" stroke="#fff" stroke-width="2.2"/><ellipse cx="-1.5" cy="0" rx="3.4" ry="5.8" fill="none" stroke="#fff" stroke-width="1.6"/></g>
<g><line x1="1136.0" y1="619.0" x2="1215.6" y2="665.0" stroke="#FF0000" stroke-width="3.2" stroke-linecap="butt"/><line x1="1051.3" y1="668.3" x2="1131.5" y2="714.6" stroke="#FF0000" stroke-width="3.2" stroke-linecap="butt"/></g>
<g><path d="M1152.7 446.0 C1153.0 444.5 1152.9 440.0 1154.2 436.9 C1155.5 433.8 1157.5 430.0 1160.3 427.1 C1163.1 424.2 1169.1 420.8 1170.9 419.5" fill="none" stroke="#fff" stroke-width="2.9" /><path d="M1170.9 419.5 L1201.2 402.9" fill="none" stroke="#fff" stroke-width="2.9" /><path d="M1201.2 402.9 C1202.0 402.6 1203.8 401.6 1205.7 401.4 C1207.6 401.2 1210.5 401.3 1212.5 401.8 C1214.5 402.3 1216.9 404.0 1217.8 404.4" fill="none" stroke="#fff" stroke-width="2.9" /><path d="M1217.8 404.4 L1258.7 427.9 L1261.0 431.0 L1261.0 442.2 L1258.7 446.0 L1225.4 462.7" fill="none" stroke="#fff" stroke-width="2.9" /><path d="M1225.4 462.7 C1224.6 463.7 1221.7 466.4 1220.8 468.7 C1219.9 471.0 1220.2 475.0 1220.1 476.3" fill="none" stroke="#fff" stroke-width="2.9" /><path d="M1220.1 476.3 L1304.5 552.9 L1305.7 554.5 L1305.3 561.7 L1304.1 570.5 L1299.7 575.4 L1298.1 580.2" fill="none" stroke="#fff" stroke-width="2.9" /><path d="M1258.7 431.0 L1226.9 452.1" fill="none" stroke="#fff" stroke-width="2.9" /><path d="M1226.9 452.1 C1225.3 453.6 1219.5 457.9 1217.1 461.2 C1214.7 464.5 1213.4 468.5 1212.5 471.8 C1211.6 475.1 1211.9 479.3 1211.8 480.8" fill="none" stroke="#fff" stroke-width="2.9" /><path d="M1211.8 480.8 L1297.3 556.9 L1298.5 559.3 L1298.1 564.1 L1296.9 569.7 L1295.7 574.5 L1291.7 578.6 L1290.1 582.6" fill="none" stroke="#fff" stroke-width="2.9" /><path d="M1152.7 446.0 L1152.7 529.3" fill="none" stroke="#fff" stroke-width="2.9" /><path d="M1152.7 529.3 C1153.0 530.2 1152.9 532.6 1154.2 534.6 C1155.5 536.6 1158.2 538.8 1160.3 541.4 C1162.4 544.0 1165.4 547.2 1167.1 550.5 C1168.8 553.8 1169.7 557.6 1170.6 561.3 C1171.5 565.0 1172.2 570.8 1172.5 572.7" fill="none" stroke="#fff" stroke-width="2.9" /><path d="M1172.5 572.7 L1172.5 700.0" fill="none" stroke="#fff" stroke-width="2.9" /><ellipse cx="1215.9" cy="426.0" rx="17.8" ry="10.2" transform="rotate(0 1215.9 426.0)" fill="none" stroke="#fff" stroke-width="2.9"/><ellipse cx="1215.1" cy="428.6" rx="9.5" ry="6.8" transform="rotate(0 1215.1 428.6)" fill="none" stroke="#fff" stroke-width="2.9"/><path d="M1290.3 581.9 C1290.2 584.6 1290.1 592.6 1289.7 598.2 C1289.3 603.8 1288.4 610.7 1287.9 615.5 C1287.5 620.3 1287.8 624.2 1286.8 627.1 C1285.7 630.0 1282.6 630.8 1281.6 632.9 C1280.5 635.0 1280.4 636.9 1280.4 639.8 C1280.4 642.7 1280.6 647.0 1281.6 650.3 C1282.5 653.5 1284.3 656.4 1286.2 659.5 C1288.1 662.6 1290.8 666.1 1293.2 668.8 C1295.5 671.5 1297.8 674.2 1300.1 675.7 C1302.4 677.3 1304.7 677.8 1307.0 678.0 C1309.4 678.2 1312.3 677.8 1314.0 676.9 C1315.7 675.9 1316.7 674.8 1317.5 672.3 C1318.2 669.7 1318.6 664.5 1318.6 661.8 C1318.6 659.1 1317.9 658.0 1317.5 656.0 C1317.1 654.1 1316.4 652.6 1316.3 650.3 C1316.2 647.9 1316.5 645.0 1316.9 642.1 C1317.3 639.3 1317.9 636.2 1318.6 632.9 C1319.3 629.6 1319.9 624.8 1320.9 622.5 C1322.0 620.2 1323.9 620.2 1325.0 619.0 C1326.1 617.8 1326.9 618.0 1327.3 615.5 C1327.7 613.0 1327.6 606.8 1327.3 603.9 C1327.0 601.0 1325.9 600.5 1325.6 598.2 C1325.3 595.8 1325.2 592.0 1325.6 590.1 C1326.0 588.1 1326.7 587.5 1327.9 586.6 C1329.0 585.6 1331.0 584.9 1332.5 584.3 C1334.1 583.6 1335.9 582.9 1337.1 582.9 C1338.4 582.9 1339.6 584.0 1340.0 584.3" fill="none" stroke="#fff" stroke-width="2.9" /><path d="M1290.1 582.6 L1290.4 582.0" fill="none" stroke="#fff" stroke-width="2.9" /><path d="M1298.4 580.2 C1298.5 582.2 1299.0 588.4 1298.9 592.4 C1298.8 596.3 1298.4 599.5 1297.8 603.9 C1297.2 608.4 1296.0 615.3 1295.5 619.0 C1294.9 622.7 1295.3 624.2 1294.3 625.9 C1293.3 627.7 1290.7 627.7 1289.7 629.4 C1288.6 631.2 1288.0 633.5 1287.9 636.4 C1287.8 639.3 1288.2 643.7 1289.1 646.8 C1290.0 649.9 1291.5 652.0 1293.2 654.9 C1294.8 657.8 1296.4 661.3 1298.9 664.1 C1301.5 667.0 1305.5 670.6 1308.2 672.3 C1310.9 673.9 1314.0 673.7 1315.2 674.0" fill="none" stroke="#fff" stroke-width="2.9" /><path d="M1340.0 584.3 L1408.9 647.9" fill="none" stroke="#fff" stroke-width="2.9" /><path d="M1408.9 647.9 C1410.1 648.4 1414.2 649.3 1415.9 650.5 C1417.5 651.6 1418.3 654.2 1418.8 654.9" fill="none" stroke="#fff" stroke-width="2.9" /><path d="M1418.8 654.9 L1418.8 705.0" fill="none" stroke="#fff" stroke-width="2.9" /><path d="M1329.6 587.7 L1403.1 652.0" fill="none" stroke="#fff" stroke-width="2.9" /><path d="M1403.1 652.0 C1404.1 652.7 1407.9 654.7 1408.9 656.0 C1410.0 657.4 1409.9 658.9 1409.5 660.1 C1409.1 661.3 1408.1 662.0 1406.6 663.0 C1405.2 664.0 1401.8 665.4 1400.8 665.9" fill="none" stroke="#fff" stroke-width="2.9" /><path d="M1403.1 650.3 L1407.8 649.1" fill="none" stroke="#fff" stroke-width="2.4" /></g>
<g><polygon points="1131.5,714.4 1242.4,650.0 1277.0,668.9 1277.0,724.0 1226.6,756.9 1206.2,769.3 1197.1,773.9 1193.7,779.6 1192.5,783.0 1183.5,786.4 1164.2,777.8 1130.8,768.2" fill="#629EC0" stroke="#fff" stroke-width="2.4"/><path d="M1131.5 714.4 L1164.8 732.5 L1277.0 668.9" fill="none" stroke="#fff" stroke-width="2" /><path d="M1164.8 732.5 L1164.2 777.8" fill="none" stroke="#fff" stroke-width="2" /><ellipse cx="1177.8" cy="741.3" rx="6.5" ry="11.2" transform="rotate(30 1177.8 741.3)" fill="none" stroke="#fff" stroke-width="1.8" /><ellipse cx="1262.4" cy="693.4" rx="6.5" ry="11.2" transform="rotate(30 1262.4 693.4)" fill="none" stroke="#fff" stroke-width="1.8" /><path d="M1175.5 780.7 C1176.1 778.4 1176.9 772.7 1178.9 767.1 C1181.0 761.4 1184.2 752.7 1188.0 746.7 C1191.8 740.6 1196.7 735.7 1201.6 730.8 C1206.5 725.9 1212.2 720.9 1217.5 717.2 C1222.8 713.5 1228.8 710.4 1233.4 708.7 C1237.9 707.0 1241.5 706.7 1244.7 706.8 C1247.9 706.9 1249.2 707.7 1252.6 709.3 C1256.0 710.8 1260.7 713.6 1265.1 716.1 C1269.4 718.5 1276.4 722.7 1278.7 724.0" fill="none" stroke="#fff" stroke-width="2" /><path d="M1194.8 780.7 C1195.6 779.4 1196.7 775.2 1199.3 772.7 C1202.0 770.3 1206.1 768.6 1210.7 765.9 C1215.2 763.3 1221.6 761.0 1226.6 756.9 C1231.5 752.7 1235.2 745.4 1240.2 741.0 C1245.1 736.7 1251.5 733.3 1256.0 730.8 C1260.6 728.4 1263.6 727.3 1267.4 726.3 C1271.1 725.2 1276.8 724.9 1278.7 724.6" fill="none" stroke="#fff" stroke-width="2" /></g>
<g><line x1="1256.9" y1="690.1" x2="1295.8" y2="712.3" stroke="#FF0000" stroke-width="3.2" stroke-linecap="butt"/><line x1="1172.3" y1="739.1" x2="1210.1" y2="760.2" stroke="#FF0000" stroke-width="3.2" stroke-linecap="butt"/></g>
<g><path d="M1183.5 786.4L1317.5 705L1384.6 666.5L1403 651L1418.8 655V835.3L1401.4 845.7L1200 961.5L1196 964L1183.5 790Z" fill="#000"/><path d="M1120.0 767.1 L1130.2 768.2 L1183.5 786.4 L1317.5 705.0 L1384.6 666.5 C1385.2 666.4 1386.9 665.7 1388.1 665.9 C1389.3 666.1 1391.0 667.3 1391.6 667.6" fill="none" stroke="#fff" stroke-width="2.9" /><path d="M1188.0 788.6 L1332.5 705.0 L1391.6 671.1 L1406.6 663.6 C1407.2 662.9 1409.7 660.9 1410.1 659.5 C1410.5 658.1 1410.1 656.9 1408.9 655.5 C1407.7 654.1 1404.1 652.1 1403.1 651.4" fill="none" stroke="#fff" stroke-width="2.9" /><path d="M1120.0 773.9 L1183.5 790.9 L1199.3 789.7 L1349.9 705.0 L1418.2 666.5" fill="none" stroke="#fff" stroke-width="2.9" /><path d="M1418.8 705.0 L1418.8 835.3 C1418.2 835.9 1416.8 837.7 1415.3 838.8 C1413.8 839.9 1410.9 841.5 1410.0 842.0 L1401.4 845.7 L1200.0 961.5" fill="none" stroke="#fff" stroke-width="2.9" /><ellipse cx="1236.0" cy="813.9" rx="8.4" ry="14.6" transform="rotate(30 1236.0 813.9)" fill="none" stroke="#fff" stroke-width="2.9" /><ellipse cx="1385.2" cy="813.9" rx="8.4" ry="14.6" transform="rotate(30 1385.2 813.9)" fill="none" stroke="#fff" stroke-width="2.9" /><ellipse cx="1386.0" cy="727.9" rx="8.5" ry="14.7" transform="rotate(30 1386.0 727.9)" fill="none" stroke="#fff" stroke-width="2.9" /><ellipse cx="1236.0" cy="899.6" rx="8.4" ry="14.6" transform="rotate(30 1236.0 899.6)" fill="none" stroke="#fff" stroke-width="2.9" /><g transform="translate(1268.3 793.7) rotate(30)"><ellipse cx="0" cy="0" rx="7.3" ry="12.7" fill="none" stroke="#fff" stroke-width="2.9"/><path d="M-3.5 -11.2A7.3 12.7 0 0 1 -3.5 11.2" fill="none" stroke="#fff" stroke-width="2"/></g><g transform="translate(1353.9 745.6) rotate(30)"><ellipse cx="0" cy="0" rx="7.3" ry="12.7" fill="none" stroke="#fff" stroke-width="2.9"/><path d="M-3.5 -11.2A7.3 12.7 0 0 1 -3.5 11.2" fill="none" stroke="#fff" stroke-width="2"/></g><g transform="translate(1267.7 891.5) rotate(30)"><ellipse cx="0" cy="0" rx="7.3" ry="12.7" fill="none" stroke="#fff" stroke-width="2.9"/><path d="M-3.5 -11.2A7.3 12.7 0 0 1 -3.5 11.2" fill="none" stroke="#fff" stroke-width="2"/></g><g transform="translate(1353.9 843.5) rotate(30)"><ellipse cx="0" cy="0" rx="7.3" ry="12.7" fill="none" stroke="#fff" stroke-width="2.9"/><path d="M-3.5 -11.2A7.3 12.7 0 0 1 -3.5 11.2" fill="none" stroke="#fff" stroke-width="2"/></g><ellipse cx="1310.2" cy="818.7" rx="39.8" ry="69.0" transform="rotate(30 1310.2 818.7)" fill="none" stroke="#fff" stroke-width="2.9" /><clipPath id="rbore"><ellipse cx="1310.2" cy="818.7" rx="38.3" ry="67.5" transform="rotate(30 1310.2 818.7)"/></clipPath><g clip-path="url(#rbore)"><ellipse cx="1306.3" cy="816.5" rx="39.8" ry="69.0" transform="rotate(30 1306.3 816.5)" fill="none" stroke="#fff" stroke-width="2.2" /><ellipse cx="1300.7" cy="813.2" rx="39.8" ry="69.0" transform="rotate(30 1300.7 813.2)" fill="none" stroke="#fff" stroke-width="2.2" /><ellipse cx="1295.5" cy="810.2" rx="39.8" ry="69.0" transform="rotate(30 1295.5 810.2)" fill="none" stroke="#fff" stroke-width="2.2" /></g><ellipse cx="1339" cy="789.5" rx="3.6" ry="10.5" transform="rotate(18 1339 789.5)" fill="none" stroke="#fff" stroke-width="2"/><path d="M1298.6 786.1 C1299.6 786.8 1303.2 787.8 1304.8 789.9 C1306.5 792.0 1308.6 795.9 1308.6 798.6 C1308.6 801.3 1305.5 804.8 1304.8 806.1" fill="none" stroke="#fff" stroke-width="2.2" /><path d="M1263.7 832.2 C1265.6 830.2 1271.4 823.7 1274.9 819.8 C1278.5 815.8 1282.2 812.3 1284.9 808.6 C1287.6 804.8 1289.3 801.3 1291.1 797.4 C1293.0 793.4 1294.8 788.6 1296.1 784.9 C1297.5 781.2 1298.4 777.6 1299.2 774.9 C1300.1 772.2 1300.8 769.7 1301.1 768.7" fill="none" stroke="#fff" stroke-width="2.2" /></g>
<g><line x1="1345.9" y1="741.3" x2="1386.0" y2="764.6" stroke="#FF0000" stroke-width="3.2" stroke-linecap="butt"/><line x1="1261.3" y1="790.3" x2="1302.0" y2="812.5" stroke="#FF0000" stroke-width="3.2" stroke-linecap="butt"/><line x1="1261.3" y1="888.2" x2="1302.0" y2="911.5" stroke="#FF0000" stroke-width="3.2" stroke-linecap="butt"/></g>
<g transform="translate(1478.3 818.0) rotate(30)"><path d="M-101.3 -9.9L-17.3 -9.9A5.7 9.9 0 0 1 -17.3 9.9L-101.3 9.9A5.7 9.9 0 0 1 -101.3 -9.9Z" fill="#C07A2E" stroke="#fff" stroke-width="2.9"/><path d="M-17.3 -18.9L0.0 -18.9A10.9 18.9 0 0 1 0.0 18.9L-17.3 18.9A10.9 18.9 0 0 1 -17.3 -18.9Z" fill="#C07A2E" stroke="#fff" stroke-width="2.9"/></g><polygon points="1472.9,817.0 1479.4,810.0 1485.6,810.0 1485.9,819.1 1479.8,826.5 1472.9,825.4" fill="none" stroke="#fff" stroke-width="1.8" stroke-linejoin="round"/><polyline points="1474.7,816.5 1478.6,816.0 1484.7,819.5" fill="none" stroke="#fff" stroke-width="1.6"/>
<g transform="translate(1478.4 916.0) rotate(30)"><path d="M-101.3 -9.9L-17.3 -9.9A5.7 9.9 0 0 1 -17.3 9.9L-101.3 9.9A5.7 9.9 0 0 1 -101.3 -9.9Z" fill="#C07A2E" stroke="#fff" stroke-width="2.9"/><path d="M-17.3 -18.9L0.0 -18.9A10.9 18.9 0 0 1 0.0 18.9L-17.3 18.9A10.9 18.9 0 0 1 -17.3 -18.9Z" fill="#C07A2E" stroke="#fff" stroke-width="2.9"/></g><polygon points="1473.0,915.0 1479.5,908.0 1485.7,908.0 1486.0,917.1 1479.9,924.5 1473.0,923.4" fill="none" stroke="#fff" stroke-width="1.8" stroke-linejoin="round"/><polyline points="1474.8,914.5 1478.7,914.0 1484.8,917.5" fill="none" stroke="#fff" stroke-width="1.6"/>
<g transform="translate(1394.0 866.8) rotate(30)"><path d="M-101.3 -9.9L-17.3 -9.9A5.7 9.9 0 0 1 -17.3 9.9L-101.3 9.9A5.7 9.9 0 0 1 -101.3 -9.9Z" fill="#C07A2E" stroke="#fff" stroke-width="2.9"/><path d="M-17.3 -18.9L0.0 -18.9A10.9 18.9 0 0 1 0.0 18.9L-17.3 18.9A10.9 18.9 0 0 1 -17.3 -18.9Z" fill="#C07A2E" stroke="#fff" stroke-width="2.9"/></g><polygon points="1388.6,865.8 1395.1,858.8 1401.3,858.8 1401.6,867.9 1395.5,875.3 1388.6,874.2" fill="none" stroke="#fff" stroke-width="1.8" stroke-linejoin="round"/><polyline points="1390.4,865.3 1394.3,864.8 1400.4,868.3" fill="none" stroke="#fff" stroke-width="1.6"/>
<g transform="translate(1394.5 964.5) rotate(30)"><path d="M-101.3 -9.9L-17.3 -9.9A5.7 9.9 0 0 1 -17.3 9.9L-101.3 9.9A5.7 9.9 0 0 1 -101.3 -9.9Z" fill="#C07A2E" stroke="#fff" stroke-width="2.9"/><path d="M-17.3 -18.9L0.0 -18.9A10.9 18.9 0 0 1 0.0 18.9L-17.3 18.9A10.9 18.9 0 0 1 -17.3 -18.9Z" fill="#C07A2E" stroke="#fff" stroke-width="2.9"/></g><polygon points="1389.1,963.5 1395.6,956.5 1401.8,956.5 1402.1,965.6 1396.0,973.0 1389.1,971.9" fill="none" stroke="#fff" stroke-width="1.8" stroke-linejoin="round"/><polyline points="1390.9,963.0 1394.8,962.5 1400.9,966.0" fill="none" stroke="#fff" stroke-width="1.6"/>
</svg>
</body></html>
